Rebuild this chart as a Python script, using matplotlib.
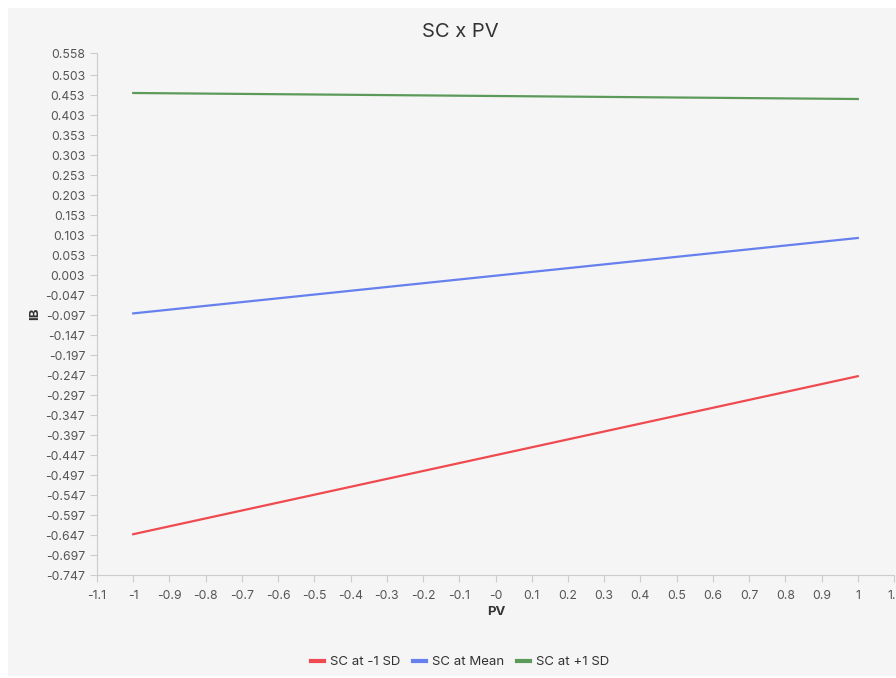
import matplotlib
matplotlib.use("Agg")
import matplotlib.pyplot as plt
import numpy as np
from matplotlib.patches import Rectangle

plt.rcParams['font.family'] = ['Inter', 'DejaVu Sans']

pv = [-1, 1]
series_names = ["SC at -1 SD", "SC at Mean", "SC at +1 SD"]
sc_low = [-0.645, -0.250]
sc_mean = [-0.093, 0.0955]
sc_high = [0.458, 0.443]
colors = ["#ef4a4f", "#6680ee", "#5c9a5a"]

y_ticks = [round(-0.747 + 0.05 * k, 3) for k in range(26)] + [0.558]
x_ticks = [round(-1.1 + 0.1 * k, 1) for k in range(23)]

W, H = 896, 678
fig = plt.figure(figsize=(W / 100, H / 100), dpi=100, facecolor="white")
fig.patches.append(Rectangle((8 / W, 2 / H), 1, (H - 10) / H, transform=fig.transFigure,
                             facecolor="#f5f5f5", edgecolor="none", zorder=-10))

ax = fig.add_axes([97 / W, (H - 575) / H, (894 - 97) / W, (575 - 53) / H])
ax.set_facecolor("#f5f5f5")
ax.set_zorder(1)

for vals, c, name in zip([sc_low, sc_mean, sc_high], colors, series_names):
    ax.plot(pv, vals, color=c, lw=1.6, label=name)

ax.set_xlim(-1.1, 1.1)
ax.set_ylim(-0.747, 0.558)
ax.set_xticks(x_ticks)
ax.set_xticklabels(["-0" if abs(v) < 1e-9 else ("%g" % v) for v in x_ticks])
ax.set_yticks(y_ticks)
ax.set_yticklabels(["%.3f" % v for v in y_ticks])

for s in ["top", "right"]:
    ax.spines[s].set_visible(False)
for s in ["left", "bottom"]:
    ax.spines[s].set_color("#cccccc")
ax.tick_params(axis="both", colors="#cccccc", labelcolor="#555555", labelsize=8.8, length=5)
ax.tick_params(axis="x", pad=6)

fig.text(460 / W, (H - 32) / H, "SC x PV", ha="center", va="center",
         fontsize=14.5, color="#333333")
fig.text(35 / W, (H - 314) / H, "IB", rotation=90, ha="center", va="center", fontsize=9.5,
         color="#333333", fontweight="bold")
fig.text(496 / W, (H - 612) / H, "PV", ha="center", va="center", fontsize=9.5, color="#333333",
         fontweight="bold")

leg = fig.legend(loc="center", bbox_to_anchor=(460 / W, (H - 662) / H), ncol=3, frameon=False,
                 fontsize=9.5, handlelength=1.0, handletextpad=0.4, columnspacing=1.0)
for t in leg.get_texts():
    t.set_color("#333333")
for l in leg.get_lines():
    l.set_linewidth(3)

fig.savefig("out.png", dpi=100, facecolor="white")
